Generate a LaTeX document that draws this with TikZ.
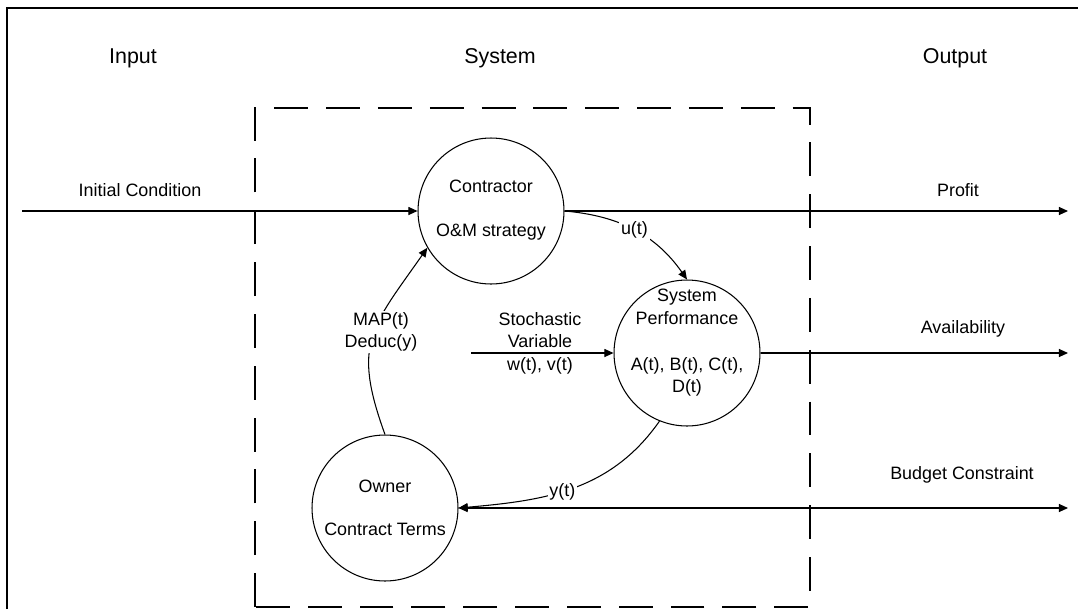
\documentclass[tikz,border=0pt]{standalone}
\usepackage{fontspec}
\setmainfont{Liberation Sans}
\usetikzlibrary{arrows.meta}

\begin{document}
\begin{tikzpicture}[x=0.02cm,y=-0.02cm,
  >={Triangle[length=5.2pt,width=4.6pt]},
  every node/.style={font=\fontsize{10.2}{12.8}\selectfont,align=center,inner sep=1pt},
  head/.style={font=\fontsize{12.2}{14}\selectfont},
  blob/.style={draw,circle,line width=0.6pt,minimum size=2.92cm,inner sep=0pt},
  link/.style={line width=0.6pt,->},
  cut/.style={fill=white,inner sep=1pt}]
  \useasboundingbox (0,0) rectangle (1078,609);
  % frame and system boundary
  \draw[line width=1.7pt] (7,609) -- (7,8) -- (1078,8);
  \draw[line width=1.2pt,dash pattern=on 19.3pt off 10.2pt] (255,607) rectangle (810,108);
  % headings
  \node[head] (input) at (133,58) {Input};
  \node[head] (system) at (500,58) {System};
  \node[head] (output) at (955,58) {Output};
  % the three blocks
  \node[blob] (contractor) at (491,211) {};
  \node[blob] (perf) at (687,353) {};
  \node[blob] (owner) at (385,508) {};
  \node (contractortext) at (491,210) {Contractor\\[12.2pt]O\&M strategy};
  \node (perftext) at (687,343) {System\\Performance\\[13.4pt]A(t), B(t), C(t),\\D(t)};
  \node (ownertext) at (385,508) {Owner\\[11.7pt]Contract Terms};
  % free ends
  \coordinate (initstart) at (22,211);
  \coordinate (profitend) at (1068,211);
  \coordinate (stochstart) at (471,353);
  \coordinate (availend) at (1068,353);
  \coordinate (budgetend) at (1068,508);
  % connectors
  \draw[link] (initstart) -- (contractor.west);
  \draw[link] (contractor.east) -- (profitend);
  \draw[link] (contractor.east) to[out=-5,in=125] node[cut]{u(t)} (perf.north);
  \draw[link] (stochstart) -- (perf.west);
  \draw[link] (perf.east) -- (availend);
  \draw[link] (perf.248) to[out=235,in=5] node[cut,pos=0.55]{y(t)} (owner.east);
  \draw[link,<->] (owner.east) -- (budgetend);
  \draw[link] (owner.north) to[out=110,in=235,looseness=1.3] (contractor.210);
  \node[cut] (maplabel) at (381,332) {MAP(t)\\Deduc(y)};
  \node (stochlabel) at (540,343) {Stochastic\\Variable\\w(t), v(t)};
  % labels on the outputs
  \node (initlabel) at (140,190) {Initial Condition};
  \node (profitlabel) at (958,190) {Profit};
  \node (availlabel) at (963,329) {Availability};
  \node (budgetlabel) at (962,475) {Budget Constraint};
\end{tikzpicture}
\end{document}
